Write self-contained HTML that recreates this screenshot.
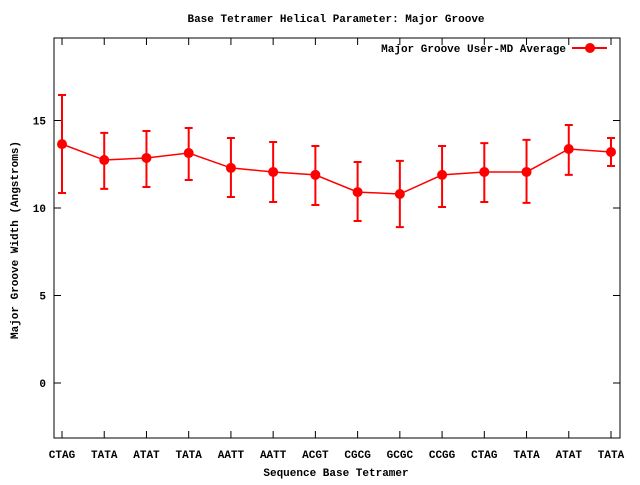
<!DOCTYPE html>
<html><head><meta charset="utf-8"><style>
body{margin:0;background:#fff}
text{font-family:"Liberation Mono",monospace;font-size:11px;font-weight:bold;fill:#000}
</style></head><body>
<svg width="640" height="480" xmlns="http://www.w3.org/2000/svg">
<rect width="640" height="480" fill="#fff"/>
<text x="336" y="22" text-anchor="middle">Base Tetramer Helical Parameter: Major Groove</text>
<g id="axes"></g>
<g id="series"></g>
<text x="336" y="476" text-anchor="middle">Sequence Base Tetramer</text>
<text transform="translate(18,240) rotate(-90)" text-anchor="middle">Major Groove Width (Angstroms)</text>
<g>
<text x="566" y="52" text-anchor="end">Major Groove User-MD Average</text>
<line x1="572" y1="48" x2="607" y2="48" stroke="#f00" stroke-width="2"/>
<circle cx="590" cy="48" r="5" fill="#f00"/>
</g>
</svg>
<script>
const categories=["CTAG","TATA","ATAT","TATA","AATT","AATT","ACGT","CGCG","GCGC","CCGG","CTAG","TATA","ATAT","TATA"];
const values=[13.65,12.74,12.86,13.14,12.29,12.06,11.89,10.91,10.8,11.89,12.06,12.06,13.37,13.2];
const errHigh=[16.46,14.29,14.4,14.57,14.0,13.77,13.54,12.63,12.69,13.54,13.71,13.89,14.74,14.0];
const errLow=[10.86,11.09,11.2,11.6,10.63,10.34,10.17,9.26,8.91,10.06,10.34,10.29,11.89,12.4];
const yTicks=[0,5,10,15];
const NS="http://www.w3.org/2000/svg";
const L=54,R=620,T=38,B=438;
const x=i=>62+i*(611-62)/(categories.length-1);
const y=v=>383-v*17.5;
function mk(tag,attrs,parent){const e=document.createElementNS(NS,tag);for(const k in attrs)e.setAttribute(k,attrs[k]);parent.appendChild(e);return e;}
const ax=document.getElementById('axes'),se=document.getElementById('series');
const frame=mk('rect',{x:L,y:T,width:R-L,height:B-T,fill:'none',stroke:'#000','stroke-width':1},ax);


yTicks.forEach(v=>{
 const t=mk('path',{d:`M${L},${y(v)}h7M${R},${y(v)}h-7`,stroke:'#000'},ax);
 
 
 const lb=mk('text',{x:L-8,y:y(v)+4,'text-anchor':'end'},ax);lb.textContent=v;
 
 
});
categories.forEach((c,i)=>{
 const t=mk('path',{d:`M${x(i)},${B}v-7M${x(i)},${T}v7`,stroke:'#000'},ax);
 
 
 const lb=mk('text',{x:x(i),y:B+20,'text-anchor':'middle'},ax);lb.textContent=c;
 
 
});
const line=mk('polyline',{points:values.map((v,i)=>x(i)+','+y(v)).join(' '),fill:'none',stroke:'#f00','stroke-width':1.5},se);


values.forEach((v,i)=>{
 const e=mk('path',{d:`M${x(i)},${y(errLow[i])}V${y(errHigh[i])}M${x(i)-4},${y(errLow[i])}h8M${x(i)-4},${y(errHigh[i])}h8`,stroke:'#f00','stroke-width':2,fill:'none'},se);
 
 
 const p=mk('circle',{cx:x(i),cy:y(v),r:5,fill:'#f00'},se);
 
 
});
</script>
</body></html>
